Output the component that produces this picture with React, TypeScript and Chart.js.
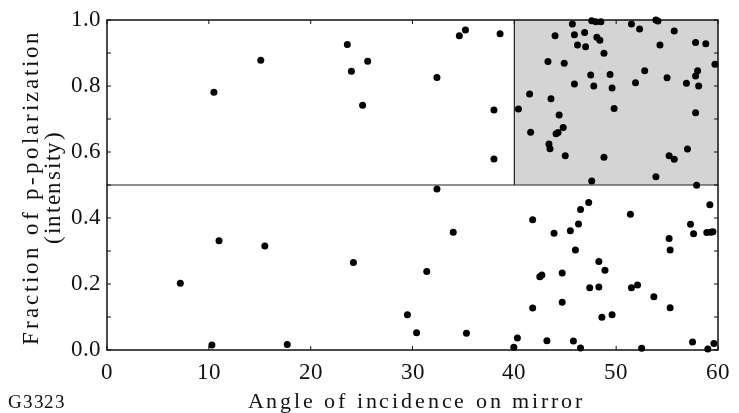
import React, { useEffect, useRef } from "react";
import { Chart, registerables } from "chart.js";

Chart.register(...registerables);

// ---- data ----
const angleDeg = [
  10.5, 15.1, 23.6, 24.0, 25.1, 25.6, 34.6, 35.2, 38.6, 32.4, 38.0, 38.0,
  7.2, 11.0, 10.3, 15.5, 17.7, 24.2, 32.4, 34.0, 31.4, 29.5, 30.4, 35.3, 39.95, 40.3,
  41.8, 41.8, 42.5, 42.7, 43.2, 43.9, 44.7, 44.7, 45.5, 45.8, 46.0, 46.3, 46.5, 46.5,
  47.3, 47.4, 48.3, 48.3, 48.9, 48.6, 49.6, 51.4, 51.5, 52.1, 52.5, 53.7, 55.2, 55.3,
  55.3, 57.3, 57.6, 57.5, 58.9, 59.3, 59.5, 59.2, 59.0, 59.6, 57.9,
  47.6, 53.9, 45.7, 47.6, 48.0, 48.5, 51.5, 53.9, 54.1, 52.3, 44.0, 45.9, 46.9, 48.1,
  48.4, 55.7, 57.8, 58.8, 46.2, 47.0, 48.8, 54.3, 59.7, 43.3, 44.9, 52.8, 58.0, 57.8,
  47.5, 49.4, 55.0, 45.9, 47.8, 49.6, 51.9, 56.9, 58.1, 41.5, 43.6, 40.4, 49.8, 57.8,
  44.4, 44.8, 44.1, 44.3, 41.6, 43.4, 43.5, 45.0, 48.8, 57.0, 55.2, 55.7,
];
const pFraction = [
  0.781, 0.878, 0.926, 0.845, 0.742, 0.875, 0.952, 0.970, 0.958, 0.826, 0.727, 0.579,
  0.202, 0.331, 0.015, 0.315, 0.017, 0.265, 0.488, 0.357, 0.238, 0.107, 0.052, 0.051, 0.008, 0.036,
  0.395, 0.127, 0.222, 0.227, 0.028, 0.354, 0.233, 0.145, 0.361, 0.027, 0.303, 0.382, 0.426, 0.006,
  0.447, 0.189, 0.191, 0.268, 0.242, 0.099, 0.107, 0.411, 0.189, 0.197, 0.005, 0.161, 0.338, 0.303,
  0.128, 0.381, 0.352, 0.024, 0.356, 0.357, 0.358, 0.440, 0.003, 0.020, 0.499,
  0.512, 0.525, 0.988, 0.998, 0.995, 0.995, 0.988, 1.0, 0.997, 0.973, 0.952, 0.955, 0.962, 0.948,
  0.939, 0.967, 0.932, 0.928, 0.924, 0.919, 0.899, 0.924, 0.866, 0.874, 0.869, 0.846, 0.846, 0.830,
  0.833, 0.835, 0.825, 0.806, 0.800, 0.794, 0.810, 0.808, 0.800, 0.776, 0.761, 0.730, 0.732, 0.719,
  0.712, 0.674, 0.655, 0.659, 0.660, 0.624, 0.610, 0.589, 0.584, 0.609, 0.589, 0.578,
];
const xTickLabels = ["0", "10", "20", "30", "40", "50", "60"];
const yTickLabels = ["0.0", "0.2", "0.4", "0.6", "0.8", "1.0"];
const xAxisTitle = "Angle of incidence on mirror";
const yAxisTitleLines = ["Fraction of p-polarization", "(intensity)"];
const figureId = "G3323";
const regionX = [40, 60];
const regionY = [0.5, 1.0];

const SERIF = `"LSA", "Noto Serif", serif`;

// draws text with even extra spacing between glyphs so it spans targetW
function drawSpaced(ctx: CanvasRenderingContext2D, text: string, cx: number, y: number, targetW: number, anchorLeft = false) {
  const chars = Array.from(text);
  const widths = chars.map((c) => ctx.measureText(c).width);
  const sumW = widths.reduce((s, w) => s + w, 0);
  const gap = chars.length > 1 ? Math.max(0, (targetW - sumW) / (chars.length - 1)) : 0;
  const total = sumW + gap * (chars.length - 1);
  let x = anchorLeft ? cx : cx - total / 2;
  ctx.textAlign = "left";
  chars.forEach((c, i) => {
    ctx.fillText(c, x, y);
    x += widths[i] + gap;
  });
}

const overlayPlugin = {
  id: "overlay",
  beforeDatasetsDraw(chart: any) {
    const { ctx, chartArea: a, scales } = chart;
    const xs = scales.x;
    const ys = scales.y;
    ctx.save();
    const rx0 = xs.getPixelForValue(regionX[0]);
    const rx1 = xs.getPixelForValue(regionX[1]);
    const ry0 = ys.getPixelForValue(regionY[1]);
    const ry1 = ys.getPixelForValue(regionY[0]);
    ctx.fillStyle = "#d4d4d4";
    ctx.fillRect(rx0, ry0, rx1 - rx0, ry1 - ry0);
    ctx.strokeStyle = "#222";
    ctx.lineWidth = 1.2;
    ctx.beginPath();
    ctx.moveTo(a.left, ry1);
    ctx.lineTo(a.right, ry1);
    ctx.moveTo(rx0, ry1);
    ctx.lineTo(rx0, ry0);
    ctx.stroke();
    ctx.strokeStyle = "#111";
    ctx.lineWidth = 1.5;
    ctx.strokeRect(a.left, a.top, a.right - a.left, a.bottom - a.top);
    ctx.lineWidth = 1;
    ctx.beginPath();
    for (let i = 0; i < xTickLabels.length; i++) {
      const px = xs.getPixelForValue(Number(xTickLabels[i]));
      ctx.moveTo(px, a.bottom);
      ctx.lineTo(px, a.bottom - 4);
      ctx.moveTo(px, a.top);
      ctx.lineTo(px, a.top + 4);
    }
    for (let i = 0; i <= 10; i++) {
      const py = ys.getPixelForValue(i / 10);
      ctx.moveTo(a.left, py);
      ctx.lineTo(a.left + 4, py);
      ctx.moveTo(a.right, py);
      ctx.lineTo(a.right - 4, py);
    }
    ctx.stroke();
    ctx.restore();
  },
  afterDraw(chart: any) {
    const { ctx, chartArea: a } = chart;
    ctx.save();
    ctx.fillStyle = "#111";
    ctx.textBaseline = "alphabetic";
    // x title
    ctx.font = `22px ${SERIF}`;
    drawSpaced(ctx, xAxisTitle, (a.left + a.right) / 2 + 2, 408, 334);
    // figure id
    ctx.font = `19px ${SERIF}`;
    drawSpaced(ctx, figureId, 8, 408, 57, true);
    // y title (two lines, rotated)
    const cy = (a.top + a.bottom) / 2 + 3;
    const baselines = [37.5, 60];
    const widths = [313, 112];
    ctx.font = `23px ${SERIF}`;
    yAxisTitleLines.forEach((line, i) => {
      ctx.save();
      ctx.translate(baselines[i], cy);
      ctx.rotate(-Math.PI / 2);
      drawSpaced(ctx, line, 0, 0, widths[i]);
      ctx.restore();
    });
    ctx.restore();
  },
};

export default function App() {
  const canvasRef = useRef<HTMLCanvasElement | null>(null);

  useEffect(() => {
    document.body.style.margin = "0";
    let chart: Chart | null = null;
    let cancelled = false;
    const timers: any[] = [];
    const build = () => {
      if (cancelled || !canvasRef.current) return;
      const points = angleDeg.map((x, i) => ({ x, y: pFraction[i] }));
      chart = new Chart(canvasRef.current, {
        type: "scatter",
        data: {
          datasets: [
            {
              data: points,
              backgroundColor: "#000",
              borderColor: "#000",
              pointRadius: 3.5,
              pointHoverRadius: 3.5,
              borderWidth: 0,
              clip: false as any,
            },
          ],
        },
        options: {
          responsive: false,
          animation: false,
          events: [],
          layout: { padding: { top: 20, right: 15, left: 0, bottom: 0 } },
          plugins: {
            legend: { display: false },
            tooltip: { enabled: false },
            title: { display: false },
          },
          scales: {
            x: {
              type: "linear",
              min: 0,
              max: 60,
              grid: { display: false, drawTicks: false },
              border: { display: false },
              ticks: {
                stepSize: 10,
                autoSkip: false,
                maxRotation: 0,
                padding: 9,
                color: "#111",
                font: { family: SERIF, size: 23 },
                callback: (_v: any, idx: number) => xTickLabels[idx] ?? "",
              },
              afterFit: (s: any) => {
                s.height = 63;
              },
            },
            y: {
              type: "linear",
              min: 0,
              max: 1,
              grid: { display: false, drawTicks: false },
              border: { display: false },
              ticks: {
                stepSize: 0.2,
                autoSkip: false,
                padding: 6,
                color: "#111",
                font: { family: SERIF, size: 23 },
                callback: (_v: any, idx: number) => yTickLabels[idx] ?? "",
              },
              afterFit: (s: any) => {
                s.width = 107;
              },
            },
          },
        },
        plugins: [overlayPlugin],
      });
      [200, 600].forEach((ms) =>
        timers.push(
          setTimeout(() => {
            if (!cancelled && chart) chart.draw();
          }, ms)
        )
      );
    };
    const face = new FontFace("LSA", "local('Liberation Serif')");
    face
      .load()
      .then((ff) => {
        (document as any).fonts.add(ff);
      })
      .catch(() => null)
      .then(() => build());
    return () => {
      cancelled = true;
      timers.forEach((t) => clearTimeout(t));
      if (chart) chart.destroy();
    };
  }, []);

  return <canvas ref={canvasRef} width={739} height={413} style={{ display: "block", width: 739, height: 413 }} />;
}
